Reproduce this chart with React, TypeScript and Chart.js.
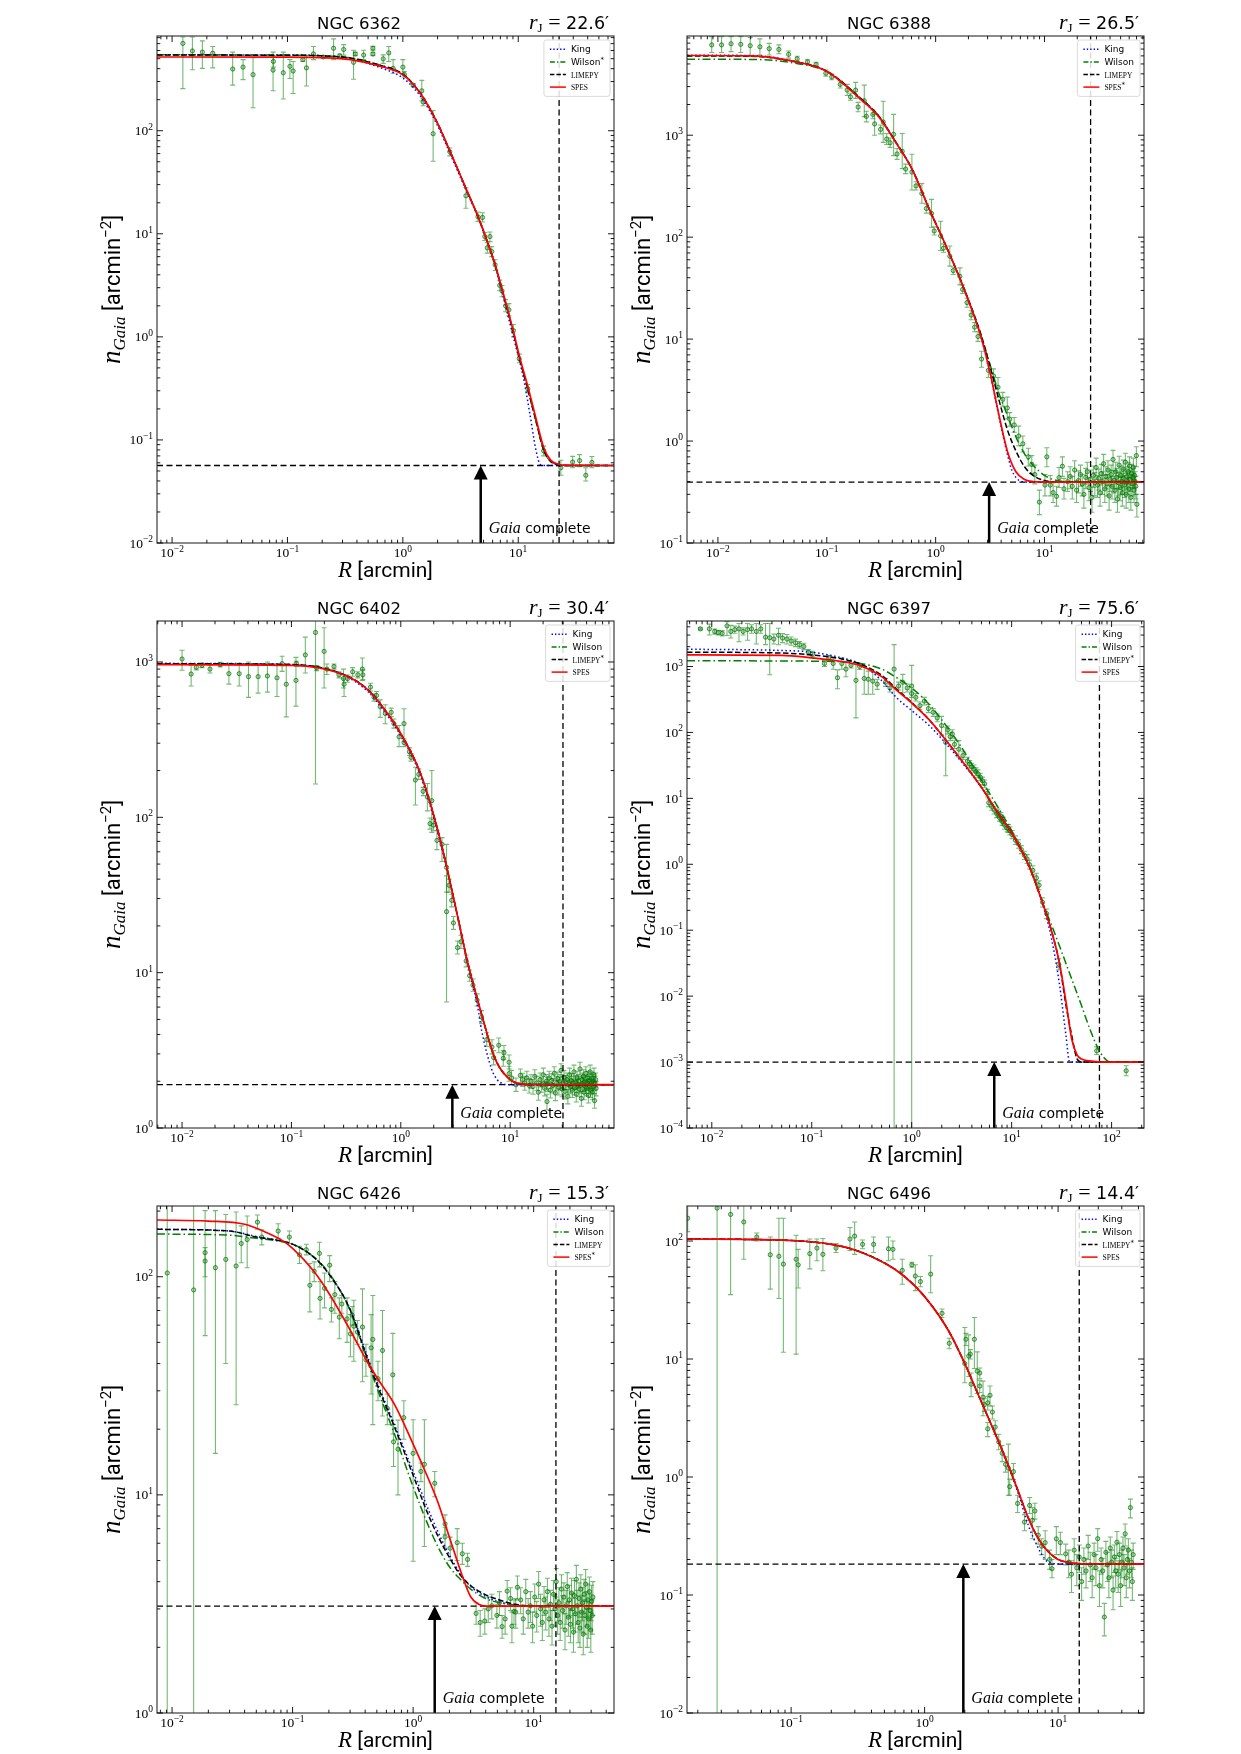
import { useEffect, useRef } from "react";
import { Chart, registerables } from "chart.js";

Chart.register(...registerables);

if (typeof document !== "undefined") {
  document.body.style.margin = "0";
  document.body.style.overflow = "hidden";
  document.body.style.background = "#ffffff";
}

type Obs = [number, number, number, number]; // R, n, lower end, upper end of error bar
type Outer = [number, number, number]; // R, n, symmetric error
type Curve = [number, number][]; // model profile samples (R, n)
type Model = "King" | "Wilson" | "LIMEPY" | "SPES";

// ---------------- NGC 6362 ----------------
const obs6362: Obs[] = [
  [0.0124, 703, 256, 811], [0.015, 594, 390, 811], [0.0183, 579, 403, 745], [0.0225, 565, 407, 657],
  [0.0335, 397, 277, 579], [0.0412, 414, 313, 490], [0.0503, 350, 167, 511], [0.075, 387, 244, 579],
  [0.0755, 470, 414, 532], [0.092, 365, 203, 579], [0.105, 421, 321, 490], [0.112, 380, 230, 470],
  [0.136, 490, 470, 511], [0.146, 407, 272, 532], [0.168, 556, 490, 657], [0.204, 519, 505, 533],
  [0.251, 631, 490, 778], [0.284, 532, 511, 556], [0.307, 614, 542, 685], [0.374, 461, 316, 604],
  [0.387, 556, 535, 578], [0.457, 542, 490, 604], [0.55, 631, 605, 658], [0.55, 556, 535, 578],
  [0.676, 498, 450, 545], [0.755, 569, 470, 657], [0.824, 403, 361, 490], [1.0, 414, 350, 490],
  [1.03, 352, 330, 375], [1.23, 277, 268, 287], [1.46, 244, 194, 308], [1.5, 190, 175, 205],
  [1.83, 93.5, 50.6, 157], [2.55, 62.5, 57, 68], [3.52, 23.4, 17.7, 28], [4.48, 14.6, 13.2, 16.3],
  [4.9, 14.4, 13, 16], [5.13, 9.4, 8.6, 10.3], [5.39, 7.3, 6.5, 8.2], [5.69, 9.4, 8.4, 10.4],
  [5.89, 6.73, 6, 7.5], [6.31, 5.0, 4.4, 5.6], [6.9, 3.16, 2.8, 3.55], [7.24, 2.79, 2.45, 3.15],
  [7.76, 2.0, 1.75, 2.3], [8.3, 1.83, 1.6, 2.1], [9.08, 1.15, 1.0, 1.32], [10.2, 0.614, 0.56, 0.68],
  [12.1, 0.313, 0.285, 0.345], [16.6, 0.0783, 0.07, 0.087], [23.4, 0.0537, 0.0454, 0.0635],
  [29.6, 0.061, 0.0537, 0.0693], [34, 0.063, 0.055, 0.072], [38.5, 0.0454, 0.04, 0.0537],
  [43.5, 0.0605, 0.0537, 0.069],
];
const king6362: Curve = [
  [0.0074, 545], [0.1, 542], [0.2, 533], [0.35, 500], [0.6, 420], [1, 325], [1.25, 258], [1.5, 198],
  [2, 112], [2.55, 61], [3.5, 27], [4.5, 14.3], [5.5, 7.8], [6.3, 4.9], [7.8, 1.95], [9.1, 0.98],
  [10.2, 0.6], [11.2, 0.38], [12.6, 0.18], [14.3, 0.078], [15.5, 0.0578], [16.5, 0.0566], [67.6, 0.0565],
];
const wilson6362: Curve = [
  [0.0074, 545], [0.1, 542], [0.2, 534], [0.35, 510], [0.6, 441], [1, 355], [1.25, 277], [1.5, 211],
  [2, 118], [2.55, 64], [3.5, 28], [4.5, 14.5], [5.5, 7.9], [6.3, 5.0], [7.8, 2.1], [9.1, 1.08],
  [10.2, 0.63], [12.1, 0.31], [14, 0.165], [16.6, 0.08], [19, 0.062], [22, 0.0578], [26, 0.0566], [67.6, 0.0565],
];
const limepy6362: Curve = [
  [0.0074, 542], [0.1, 540], [0.2, 533], [0.35, 508], [0.6, 440], [1, 355], [1.25, 277], [1.5, 211],
  [2, 118], [2.55, 64], [3.5, 28], [4.5, 14.5], [5.5, 7.9], [6.3, 5.0], [7.8, 2.1], [9.1, 1.08],
  [10.2, 0.63], [12.1, 0.31], [14, 0.165], [16.6, 0.08], [19, 0.062], [22, 0.0578], [26, 0.0566], [67.6, 0.0565],
];
const spes6362: Curve = [
  [0.0074, 519], [0.1, 518], [0.2, 512], [0.35, 490], [0.6, 430], [1, 350], [1.25, 275], [1.5, 210],
  [2, 118], [2.55, 64], [3.5, 28], [4.5, 14.5], [5.5, 7.9], [6.3, 5.0], [7.8, 2.15], [9.1, 1.12],
  [10.2, 0.66], [12.1, 0.33], [14, 0.175], [16.6, 0.085], [19, 0.064], [22, 0.0585], [26, 0.0567], [67.6, 0.0565],
];

// ---------------- NGC 6388 ----------------
const obs6388: Obs[] = [
  [0.00877, 7690, 6480, 9270], [0.0108, 7690, 6480, 9270], [0.0132, 7890, 6600, 9270], [0.0162, 7800, 6480, 9270],
  [0.0198, 7550, 6000, 9100], [0.0243, 7360, 6130, 8800], [0.0296, 7060, 6130, 7950], [0.0363, 6940, 6300, 7700],
  [0.0446, 6210, 5700, 6700], [0.0535, 5610, 5300, 5950], [0.0665, 5250, 5000, 5500], [0.0798, 4940, 4700, 5200],
  [0.098, 4060, 3800, 4350], [0.111, 3730, 3500, 3980], [0.133, 3150, 2900, 3400], [0.154, 2770, 2450, 3150],
  [0.165, 2380, 2200, 2580], [0.184, 2770, 2300, 3300], [0.194, 1890, 1700, 2100], [0.221, 2180, 1520, 3100],
  [0.231, 1530, 1350, 1720], [0.265, 1600, 1450, 1770], [0.275, 1290, 1000, 1600], [0.312, 1140, 1030, 1260],
  [0.33, 1350, 850, 2150], [0.355, 918, 810, 1040], [0.382, 844, 760, 940], [0.411, 1020, 630, 1600],
  [0.442, 654, 580, 740], [0.493, 694, 470, 1040], [0.53, 466, 420, 520], [0.605, 435, 290, 650],
  [0.66, 318, 290, 350], [0.747, 268, 215, 335], [0.822, 191, 172, 212], [0.916, 171, 125, 235],
  [0.97, 115, 105, 126], [1.11, 103, 74, 143], [1.18, 78, 71, 86], [1.35, 65, 52, 82],
  [1.45, 47, 43, 51], [1.67, 41.3, 34, 50], [1.77, 30.7, 28, 34], [1.94, 22.8, 20.5, 25.3],
  [2.12, 17.2, 15.5, 19], [2.28, 13.1, 11.8, 14.5], [2.45, 10.6, 9.5, 11.8], [2.64, 6.37, 5.3, 7.6],
  [3.05, 4.94, 4.2, 5.8], [3.4, 4.35, 3.7, 5.1], [3.74, 3.37, 2.7, 4.2], [4.14, 2.57, 2.2, 3.0],
  [4.55, 2.11, 1.65, 2.7], [4.79, 1.64, 1.4, 1.9], [5.27, 1.44, 1.22, 1.7], [5.79, 1.12, 0.9, 1.4],
  [6.32, 0.94, 0.78, 1.12], [7.1, 0.7, 0.57, 0.85], [7.64, 0.59, 0.48, 0.72], [8.15, 0.47, 0.38, 0.58],
  [8.97, 0.252, 0.19, 0.33], [10.1, 0.37, 0.29, 0.47], [10.5, 0.7, 0.56, 0.86], [11.3, 0.37, 0.29, 0.46],
  [12, 0.312, 0.25, 0.39], [12.9, 0.287, 0.23, 0.36], [13.6, 0.438, 0.35, 0.55], [14.6, 0.566, 0.45, 0.7],
  [15.1, 0.34, 0.27, 0.43], [16.3, 0.4, 0.32, 0.5],
];
const outer6388: Outer[] = [
  [17.2, 0.45, 0.11], [18.0, 0.36, 0.09], [18.9, 0.52, 0.12], [19.7, 0.33, 0.08], [20.5, 0.41, 0.1],
  [21.4, 0.47, 0.11], [22.2, 0.38, 0.09], [23.0, 0.3, 0.08], [23.9, 0.44, 0.1], [24.7, 0.5, 0.12],
  [25.6, 0.35, 0.09], [26.4, 0.42, 0.1], [27.3, 0.28, 0.08], [28.1, 0.46, 0.11], [29.0, 0.39, 0.1],
  [29.8, 0.55, 0.13], [30.7, 0.37, 0.09], [31.5, 0.43, 0.1], [32.4, 0.31, 0.08], [33.2, 0.48, 0.11],
  [34.1, 0.4, 0.1], [34.9, 0.6, 0.14], [35.8, 0.34, 0.09], [36.6, 0.45, 0.11], [37.5, 0.38, 0.09],
  [38.3, 0.52, 0.12], [39.2, 0.29, 0.08], [40.0, 0.42, 0.1], [40.9, 0.47, 0.11], [41.7, 0.36, 0.09],
  [42.6, 0.66, 0.15], [43.4, 0.41, 0.1], [44.3, 0.33, 0.08], [45.1, 0.5, 0.12], [46.0, 0.44, 0.1],
  [46.8, 0.27, 0.07], [47.7, 0.39, 0.1], [48.5, 0.58, 0.13], [49.4, 0.35, 0.09], [50.2, 0.46, 0.11],
  [51.1, 0.4, 0.1], [51.9, 0.31, 0.08], [52.8, 0.53, 0.12], [53.6, 0.43, 0.1], [54.5, 0.37, 0.09],
  [55.3, 0.62, 0.14], [56.2, 0.3, 0.08], [57.0, 0.45, 0.11], [57.9, 0.4, 0.1], [58.7, 0.5, 0.12],
  [59.6, 0.34, 0.09], [60.4, 0.57, 0.13], [61.3, 0.42, 0.1], [62.1, 0.28, 0.07], [63.0, 0.48, 0.11],
  [63.8, 0.38, 0.09], [64.7, 0.44, 0.1], [65.5, 0.55, 0.13], [66.4, 0.33, 0.08], [67.2, 0.46, 0.11],
  [68.1, 0.4, 0.1], [69.0, 0.36, 0.09], [69.8, 0.72, 0.16], [70.5, 0.24, 0.06],
];
const king6388: Curve = [
  [0.0052, 6100], [0.02, 6050], [0.05, 5320], [0.1, 4240], [0.2, 2300], [0.3, 1520], [0.43, 850],
  [0.61, 460], [0.88, 185], [1.27, 78], [1.83, 30.7], [2.63, 10.2], [3.16, 4.7], [3.79, 1.8],
  [4.55, 0.75], [5.0, 0.52], [5.46, 0.44], [6.0, 0.405], [7, 0.397], [82, 0.396],
];
const wilson6388: Curve = [
  [0.0052, 5560], [0.02, 5540], [0.05, 5100], [0.1, 4200], [0.2, 2350], [0.3, 1540], [0.43, 860],
  [0.61, 460], [0.88, 185], [1.27, 78], [1.83, 31], [2.63, 10.5], [3.16, 5.6], [3.79, 3.0],
  [4.55, 1.8], [5.46, 1.1], [6.55, 0.75], [7.86, 0.58], [10, 0.46], [13, 0.41], [18, 0.397], [82, 0.396],
];
const limepy6388: Curve = [
  [0.0052, 6000], [0.02, 5950], [0.05, 5280], [0.1, 4250], [0.2, 2350], [0.3, 1540], [0.43, 860],
  [0.61, 460], [0.88, 185], [1.27, 78], [1.83, 31], [2.63, 10.8], [3.16, 5.4], [3.79, 2.6],
  [4.55, 1.3], [5.46, 0.8], [6.55, 0.56], [7.86, 0.46], [10, 0.41], [14, 0.397], [82, 0.396],
];
const spes6388: Curve = [
  [0.0052, 6050], [0.02, 6000], [0.05, 5300], [0.1, 4240], [0.2, 2300], [0.3, 1520], [0.43, 850],
  [0.61, 460], [0.88, 185], [1.27, 78], [1.83, 30.7], [2.63, 10.2], [3.16, 4.7], [3.79, 1.86],
  [4.55, 0.8], [5.46, 0.5], [6.55, 0.42], [7.86, 0.4], [12, 0.396], [82, 0.396],
];

// ---------------- NGC 6402 ----------------
const obs6402: Obs[] = [
  [0.01, 1045, 885, 1190], [0.0121, 837, 700, 951], [0.0135, 925, 890, 960], [0.0152, 951, 920, 985],
  [0.018, 900, 850, 950], [0.0223, 962, 930, 995], [0.0268, 841, 720, 980], [0.0333, 841, 700, 980],
  [0.0405, 805, 592, 1000], [0.0496, 805, 630, 975], [0.0603, 813, 640, 1000], [0.0738, 791, 600, 975],
  [0.0822, 977, 870, 1090], [0.0897, 719, 443, 975], [0.11, 761, 520, 1070], [0.111, 977, 940, 1010],
  [0.134, 1110, 850, 1445], [0.166, 1550, 164, 1860], [0.17, 915, 880, 950], [0.199, 1170, 680, 1660],
  [0.211, 900, 830, 970], [0.245, 935, 900, 970], [0.272, 827, 790, 865], [0.299, 782, 680, 900],
  [0.303, 719, 600, 780], [0.326, 782, 740, 825], [0.363, 865, 810, 920], [0.405, 827, 790, 865],
  [0.445, 900, 760, 1060], [0.45, 827, 770, 890], [0.528, 689, 650, 730], [0.569, 592, 560, 625],
  [0.6, 609, 575, 645], [0.648, 515, 440, 570], [0.721, 466, 400, 530], [0.817, 474, 445, 505],
  [0.865, 401, 375, 430], [0.964, 330, 285, 390], [1.07, 401, 310, 500], [1.07, 303, 285, 320],
  [1.2, 264, 250, 280], [1.24, 243, 230, 257], [1.36, 174, 120, 210], [1.46, 189, 175, 205],
  [1.6, 147, 138, 156], [1.75, 135, 110, 165], [1.92, 128, 80, 200], [1.85, 91, 84, 99],
  [1.99, 89, 82, 97], [2.14, 71, 62, 82], [2.38, 67, 52, 74], [2.62, 47.6, 33, 67],
  [2.62, 24.7, 6.47, 42], [2.76, 36.5, 33, 40], [2.92, 29.2, 26.5, 32], [3.03, 20.9, 19, 23],
  [3.3, 14.5, 13.2, 16], [3.55, 15.8, 14.3, 17.4], [3.96, 11.9, 10.9, 13], [4.26, 9.57, 8.8, 10.4],
  [4.57, 8.32, 7.6, 9.1], [4.99, 6.66, 6.1, 7.3], [5.48, 5.18, 4.7, 5.7], [6.11, 3.71, 3.35, 4.1],
  [6.81, 3.32, 3.0, 3.7], [7.06, 2.84, 2.55, 3.15], [7.87, 3.41, 3.05, 3.8], [8.65, 2.81, 2.5, 3.15],
  [8.78, 3.05, 2.75, 3.4], [9.78, 2.65, 2.4, 2.95], [9.78, 2.24, 2.0, 2.5], [10.3, 2.1, 1.9, 2.35],
  [11.3, 1.9, 1.72, 2.1], [12.4, 2.18, 1.96, 2.4],
];
const outer6402: Outer[] = [
  [13.0, 2.05, 0.2], [13.6, 1.95, 0.2], [14.2, 2.1, 0.22], [14.9, 1.88, 0.2], [15.5, 2.0, 0.2],
  [16.2, 1.85, 0.2], [16.8, 2.15, 0.22], [17.5, 1.95, 0.2], [18.1, 1.7, 0.19], [18.8, 2.05, 0.21],
  [19.4, 1.9, 0.2], [20.1, 2.2, 0.23], [20.7, 1.8, 0.19], [21.4, 2.0, 0.21], [21.7, 1.48, 0.17],
  [22.0, 1.92, 0.2], [22.7, 2.1, 0.22], [23.3, 1.75, 0.19], [24.0, 2.02, 0.21], [24.6, 1.88, 0.2],
  [25.3, 2.25, 0.23], [25.9, 1.68, 0.18], [26.6, 1.95, 0.2], [27.2, 2.08, 0.21], [27.9, 1.82, 0.19],
  [28.5, 2.0, 0.21], [29.2, 2.35, 0.24], [29.8, 1.78, 0.19], [30.5, 1.95, 0.2], [31.1, 2.12, 0.22],
  [31.8, 1.72, 0.18], [32.4, 1.98, 0.2], [33.1, 2.05, 0.21], [33.7, 1.6, 0.17], [34.4, 1.9, 0.2],
  [35.0, 2.2, 0.23], [35.7, 1.85, 0.19], [36.3, 2.02, 0.21], [37.0, 1.75, 0.18], [37.6, 1.95, 0.2],
  [38.3, 2.3, 0.24], [38.9, 1.82, 0.19], [39.6, 1.98, 0.2], [40.2, 1.65, 0.18], [40.9, 2.1, 0.22],
  [41.5, 1.9, 0.2], [42.2, 2.0, 0.21], [42.8, 1.78, 0.19], [43.5, 2.4, 0.25], [44.1, 1.88, 0.2],
  [44.8, 1.55, 0.17], [45.4, 2.05, 0.21], [46.1, 1.92, 0.2], [46.7, 2.15, 0.22], [47.4, 1.7, 0.18],
  [48.0, 1.98, 0.2], [48.7, 1.85, 0.19], [49.3, 2.25, 0.23], [50.0, 1.8, 0.19], [50.6, 1.95, 0.2],
  [51.3, 2.1, 0.22], [51.9, 1.62, 0.17], [52.6, 2.0, 0.21], [53.2, 1.88, 0.2], [53.9, 2.3, 0.24],
  [54.5, 1.75, 0.18], [55.2, 1.95, 0.2], [55.8, 2.08, 0.21], [56.5, 1.7, 0.18], [57.1, 2.0, 0.21],
  [57.8, 1.85, 0.19], [58.4, 2.2, 0.23], [59.1, 1.5, 0.16], [59.7, 1.95, 0.2], [60.4, 2.05, 0.21],
  [61.0, 1.8, 0.19],
];
const king6402: Curve = [
  [0.0059, 980], [0.1, 965], [0.3, 820], [0.5, 645], [0.7, 485], [1, 335], [1.5, 188], [2, 99],
  [2.5, 54], [3, 31], [3.5, 19], [4, 12.1], [5, 6.2], [5.5, 4.2], [6.8, 2.37], [7.6, 2.05],
  [8.5, 1.93], [9.5, 1.9], [89, 1.9],
];
const wilson6402: Curve = [
  [0.0059, 970], [0.1, 958], [0.3, 830], [0.5, 662], [0.7, 501], [1, 345], [1.5, 195], [2, 103],
  [2.5, 56], [3, 31.5], [3.5, 19.2], [4, 12.4], [5, 6.8], [6, 4.3], [7, 3.0], [8, 2.45],
  [10, 2.05], [12, 1.93], [16, 1.905], [89, 1.9],
];
const limepy6402: Curve = [
  [0.0059, 975], [0.1, 962], [0.3, 832], [0.5, 664], [0.7, 502], [1, 346], [1.5, 195], [2, 103],
  [2.5, 56], [3, 31.5], [3.5, 19.2], [4, 12.4], [5, 6.8], [6, 4.3], [7, 3.0], [8, 2.45],
  [10, 2.05], [12, 1.93], [16, 1.905], [89, 1.9],
];
const spes6402: Curve = [
  [0.0059, 962], [0.1, 950], [0.3, 827], [0.5, 662], [0.7, 501], [1, 345], [1.5, 195], [2, 103],
  [2.5, 56], [3, 31.5], [3.5, 19.2], [4, 12.4], [5, 6.8], [6, 4.3], [7, 3.0], [8, 2.45],
  [10, 2.05], [12, 1.93], [16, 1.905], [89, 1.9],
];

// ---------------- NGC 6397 ----------------
const obs6397: Obs[] = [
  [0.00769, 3720, 3600, 3850], [0.00946, 3720, 3000, 4400], [0.0107, 3400, 3100, 3700], [0.0116, 3270, 3000, 3550],
  [0.0127, 3180, 2900, 3500], [0.0142, 4140, 2950, 4800], [0.0155, 3400, 2700, 4200], [0.017, 3630, 3200, 4100],
  [0.0187, 3720, 2380, 4500], [0.0206, 3400, 3000, 3850], [0.0228, 3630, 2500, 4500], [0.025, 3720, 3200, 4300],
  [0.0279, 3400, 2200, 4500], [0.0309, 3720, 3200, 4300], [0.0345, 2790, 2150, 4500], [0.038, 2730, 750, 4500],
  [0.0418, 2610, 2200, 3100], [0.0465, 2980, 2140, 3800], [0.051, 2700, 2300, 3150], [0.0565, 2610, 2200, 3050],
  [0.0622, 2440, 2100, 2800], [0.0688, 2290, 2000, 2600], [0.0757, 2140, 1900, 2400], [0.0834, 2010, 1800, 2250],
  [0.0925, 1650, 1500, 1800], [0.1015, 1540, 1400, 1700], [0.134, 1110, 1000, 1230], [0.148, 1360, 1250, 1480],
  [0.164, 1110, 910, 1350], [0.181, 675, 460, 890], [0.2, 1110, 910, 1350], [0.22, 914, 700, 1150],
  [0.247, 1040, 950, 1130], [0.277, 615, 166, 1100], [0.302, 1000, 900, 1100], [0.335, 658, 380, 1000],
  [0.368, 641, 380, 850], [0.408, 600, 380, 850], [0.452, 540, 450, 640], [0.547, 577, 500, 660],
  [0.606, 473, 410, 540], [0.667, 914, 0.000001, 2150], [0.74, 506, 440, 580], [0.814, 577, 400, 760],
  [0.902, 473, 410, 540], [1.0, 506, 0.000001, 1040], [1.0, 389, 340, 440], [1.1, 341, 300, 390],
  [1.21, 255, 225, 290], [1.34, 299, 260, 340], [1.47, 230, 200, 265], [1.64, 202, 175, 230],
  [1.8, 166, 145, 190], [1.99, 127, 91, 175], [2.19, 70.5, 22, 120], [2.3, 110, 95, 125],
  [2.43, 86, 75, 98], [2.55, 95, 82, 110], [2.68, 66, 57, 76], [2.96, 55.7, 42, 75],
  [3.26, 44.5, 39, 51], [3.61, 36.6, 32, 42], [3.8, 33, 29, 37.5], [3.98, 30, 26, 34],
  [4.2, 28, 24.5, 32], [4.4, 25.3, 22, 29], [4.6, 23.5, 20.5, 27], [4.86, 21, 18.5, 24],
  [5.1, 18.5, 16, 21], [5.37, 16.6, 14.5, 19], [5.74, 12, 10.5, 13.7], [5.9, 8.6, 7.5, 9.8],
  [6.3, 7.56, 6.6, 8.6], [6.7, 6.63, 5.8, 7.6], [7.1, 5.81, 5.1, 6.6], [7.3, 6.0, 5.2, 6.9],
  [7.57, 5.1, 4.5, 5.8], [7.8, 5.3, 4.6, 6.1], [8.0, 4.47, 3.9, 5.1], [8.2, 4.5, 3.9, 5.2],
  [8.5, 3.92, 3.4, 4.5], [9.0, 3.53, 3.1, 4.0], [9.3, 3.5, 3.05, 4.0], [9.6, 3.22, 2.8, 3.7],
  [10.1, 2.82, 2.45, 3.25], [10.9, 2.32, 2.0, 2.7], [11.7, 2.03, 1.75, 2.35], [12.5, 1.67, 1.45, 1.92],
  [13.4, 1.37, 1.18, 1.58], [14.3, 1.2, 1.03, 1.4], [15.1, 0.987, 0.85, 1.15], [16.3, 0.81, 0.69, 0.95],
  [17.7, 0.623, 0.53, 0.73], [18.8, 0.48, 0.41, 0.56], [20.4, 0.265, 0.225, 0.31], [22.4, 0.179, 0.15, 0.21],
  [29.6, 0.0304, 0.025, 0.037], [71, 0.00148, 0.0013, 0.0017], [140, 0.000738, 0.00062, 0.00088],
];
const king6397: Curve = [
  [0.00565, 1830], [0.05, 1750], [0.1, 1650], [0.2, 1350], [0.3, 1110], [0.5, 615], [0.7, 341],
  [1, 215], [1.5, 127], [2, 80], [3, 39], [5, 14.6], [7, 6.6], [10, 3.0], [15, 0.92], [20, 0.28],
  [25, 0.076], [30, 0.0157], [35, 0.0025], [38, 0.001], [211, 0.001],
];
const wilson6397: Curve = [
  [0.00565, 1220], [0.14, 1200], [0.31, 1110], [0.5, 914], [0.68, 703], [1, 473], [1.51, 263],
  [2, 155], [3.09, 62], [4.97, 19], [7.4, 7.1], [10.2, 3.05], [15, 0.92], [20, 0.283], [25, 0.121],
  [30, 0.0586], [40, 0.018], [50, 0.0072], [60, 0.0033], [75, 0.0015], [90, 0.00105], [100, 0.001], [211, 0.001],
];
const limepy6397: Curve = [
  [0.00565, 1650], [0.05, 1600], [0.1, 1500], [0.2, 1300], [0.3, 1100], [0.5, 740], [0.7, 460],
  [1, 285], [1.5, 155], [2, 91.7], [3, 41.7], [5, 14.6], [7, 6.63], [10, 3.01], [15, 0.924],
  [20, 0.283], [25, 0.099], [30, 0.032], [35, 0.0072], [40, 0.0025], [45, 0.00113], [50, 0.001], [211, 0.001],
];
const spes6397: Curve = [
  [0.00565, 1500], [0.05, 1480], [0.1, 1355], [0.2, 1190], [0.3, 1040], [0.5, 703], [0.7, 443],
  [1, 280], [1.5, 155], [2, 91.7], [3, 41.7], [5, 14.6], [7, 6.63], [10, 3.01], [15, 0.924],
  [20, 0.283], [25, 0.099], [30, 0.0325], [35, 0.00817], [40, 0.0022], [45, 0.0013], [50, 0.00111],
  [60, 0.00104], [80, 0.001], [211, 0.001],
];

// ---------------- NGC 6426 ----------------
const obs6426: Obs[] = [
  [0.00912, 104, 0.000001, 400], [0.0151, 87, 0.000001, 400], [0.0188, 129, 53.7, 201], [0.0188, 118, 100, 136],
  [0.0229, 110, 15.5, 201], [0.0279, 120, 40, 193], [0.034, 112, 25.9, 198], [0.0375, 142, 116, 171],
  [0.042, 148, 110, 190], [0.0511, 178, 165, 192], [0.0555, 152, 140, 164], [0.0759, 162, 150, 175],
  [0.094, 152, 142, 162], [0.114, 126, 115, 138], [0.13, 133, 126, 141], [0.139, 91.4, 69, 115],
  [0.151, 106, 95, 117], [0.167, 128, 111, 144], [0.169, 79.6, 64, 95], [0.184, 88.5, 72, 104],
  [0.203, 113, 95, 125], [0.21, 70.8, 62, 80], [0.224, 82.8, 68, 95], [0.244, 65.3, 52, 80],
  [0.256, 75, 68, 82], [0.283, 64.1, 50, 80], [0.302, 54.7, 43, 67], [0.312, 66.7, 60, 73],
  [0.322, 59.3, 41, 78], [0.345, 55.8, 49, 63], [0.38, 58.8, 33, 88], [0.406, 41.6, 35, 49],
  [0.448, 47.2, 29, 67], [0.463, 51.6, 21, 82], [0.511, 34.1, 27, 41], [0.557, 45.9, 23, 70],
  [0.611, 24.9, 21, 29], [0.678, 35.5, 19, 55], [0.688, 17.5, 13.5, 21], [0.749, 16.2, 10, 22],
  [0.837, 22.6, 18, 27], [1.0, 15.5, 4.96, 22.1], [1.16, 12.8, 11.5, 14], [1.24, 13.8, 5.8, 22.1],
  [1.51, 11.3, 9.8, 12.8], [1.84, 6.41, 5.7, 7.1], [1.84, 7.36, 6.6, 8.1], [2.03, 5.7, 5.0, 6.4],
  [2.32, 6.04, 5.0, 7.0], [2.56, 5.37, 4.8, 6.0], [2.83, 5.06, 4.7, 5.4], [3.33, 2.86, 2.55, 3.2],
  [3.6, 2.6, 2.25, 2.95], [3.93, 2.64, 2.3, 3.0], [4.2, 3.0, 2.6, 3.4], [4.49, 3.1, 2.7, 3.5],
  [4.95, 2.8, 2.45, 3.15], [5.2, 3.2, 2.8, 3.6], [5.47, 2.49, 2.2, 2.8], [5.8, 2.7, 2.3, 3.1],
  [6.03, 3.62, 3.2, 4.05], [6.43, 3.35, 2.95, 3.75], [6.6, 2.5, 2.1, 2.9], [6.87, 2.92, 2.55, 3.3],
  [7.1, 2.9, 2.45, 3.35], [7.33, 3.77, 3.3, 4.25],
];
const outer6426: Outer[] = [
  [7.8, 3.3, 0.45], [8.2, 2.7, 0.4], [8.6, 3.6, 0.5], [9.0, 2.9, 0.45], [9.4, 3.1, 0.5], [9.8, 2.5, 0.4],
  [10.2, 3.4, 0.5], [10.6, 2.8, 0.45], [11.0, 3.9, 0.55], [11.4, 3.0, 0.5], [11.8, 2.6, 0.45], [12.2, 3.3, 0.5],
  [12.6, 2.9, 0.5], [13.0, 3.6, 0.55], [13.4, 2.7, 0.45], [13.8, 3.15, 0.5], [14.2, 2.5, 0.45], [14.6, 3.5, 0.55],
  [15.0, 3.0, 0.5], [15.4, 4.0, 0.6], [15.8, 2.8, 0.5], [16.2, 3.2, 0.55], [16.6, 2.6, 0.45], [17.0, 3.7, 0.6],
  [17.4, 2.95, 0.5], [17.8, 3.4, 0.55], [18.2, 2.4, 0.45], [18.6, 3.1, 0.55], [19.0, 3.8, 0.6], [19.4, 2.75, 0.5],
  [19.8, 3.3, 0.55], [20.2, 2.55, 0.45], [20.6, 3.55, 0.6], [21.0, 3.0, 0.55], [21.4, 2.35, 0.45], [21.8, 3.45, 0.6],
  [22.2, 2.85, 0.5], [22.6, 4.1, 0.65], [23.0, 3.1, 0.55], [23.4, 2.6, 0.5], [23.8, 3.35, 0.6], [24.2, 2.45, 0.45],
  [24.6, 3.7, 0.6], [25.0, 2.9, 0.55], [25.4, 3.2, 0.55], [25.8, 2.3, 0.45], [26.2, 3.5, 0.6], [26.6, 2.8, 0.5],
  [27.0, 3.9, 0.65], [27.4, 3.05, 0.55], [27.8, 2.5, 0.5], [28.2, 3.3, 0.6], [28.6, 2.7, 0.5], [29.0, 3.6, 0.6],
  [29.4, 2.95, 0.55], [29.8, 2.4, 0.5], [30.2, 3.25, 0.6], [30.6, 2.8, 0.5], [31.0, 3.4, 0.6],
];
const king6426: Curve = [
  [0.0075, 165], [0.03, 162], [0.05, 153], [0.08, 146], [0.1, 141], [0.15, 123], [0.2, 103], [0.3, 71],
  [0.4, 46], [0.5, 33], [0.7, 21], [1, 12.8], [1.3, 8.9], [1.6, 6.8], [2, 5.3], [2.5, 4.3], [3, 3.8],
  [4, 3.42], [5, 3.25], [7, 3.12], [10, 3.09], [46.4, 3.09],
];
const wilson6426: Curve = [
  [0.0075, 157], [0.03, 155], [0.05, 150], [0.08, 145], [0.1, 141], [0.15, 123], [0.2, 104], [0.3, 70],
  [0.4, 44], [0.5, 31], [0.7, 19], [1, 10.9], [1.3, 7.5], [1.6, 5.81], [2, 4.68], [2.5, 4.07], [3, 3.7],
  [4, 3.35], [5, 3.22], [7, 3.12], [10, 3.09], [46.4, 3.09],
];
const limepy6426: Curve = [
  [0.0075, 165], [0.03, 162], [0.05, 152], [0.08, 146], [0.1, 141], [0.15, 123], [0.2, 103], [0.3, 70.7],
  [0.4, 45], [0.5, 32.2], [0.7, 20.5], [1, 12.3], [1.3, 8.4], [1.6, 6.5], [2, 5.16], [2.5, 4.24], [3, 3.84],
  [4, 3.48], [5, 3.32], [7, 3.15], [10, 3.09], [46.4, 3.09],
];
const spes6426: Curve = [
  [0.0075, 182], [0.02, 180], [0.04, 174], [0.06, 160], [0.083, 146], [0.1, 135], [0.15, 106], [0.2, 84],
  [0.3, 57], [0.4, 42.4], [0.5, 34.5], [0.7, 26], [1, 17.1], [1.3, 12.3], [1.6, 9.3], [2, 6.4], [2.5, 4.41],
  [3, 3.41], [3.5, 3.15], [4, 3.09], [46.4, 3.09],
];

// ---------------- NGC 6496 ----------------
const obs6496: Obs[] = [
  [0.0168, 156, 120, 200], [0.0279, 190, 0.000001, 400], [0.0352, 168, 35.1, 210], [0.0442, 145, 70, 210],
  [0.0553, 108, 100, 117], [0.0698, 76.4, 39.1, 108], [0.081, 74.2, 32.6, 156], [0.0875, 63.7, 11.4, 156],
  [0.109, 70, 11, 112], [0.113, 62.8, 40, 85], [0.138, 78.1, 58, 104], [0.156, 87.1, 68, 104],
  [0.173, 77, 56, 105], [0.217, 87.1, 80, 95], [0.276, 104, 83, 130], [0.299, 110, 77, 145],
  [0.343, 93.7, 86, 102], [0.415, 93.7, 80, 108], [0.536, 85.9, 68, 108], [0.579, 85, 70, 100],
  [0.68, 56.3, 43, 70], [0.803, 62.8, 60, 66], [0.852, 50.5, 38, 63], [0.93, 45.3, 41, 50],
  [1.11, 52.4, 36.4, 75], [1.35, 24.4, 22.5, 26.5], [1.53, 13.6, 12.2, 15], [2.0, 9.14, 6.3, 18.5],
  [2.04, 14.7, 13, 16.5], [2.14, 10.6, 7.1, 16], [2.2, 11, 10, 12], [2.23, 6.12, 4.8, 7.6],
  [2.36, 14.7, 8.3, 22.5], [2.48, 7.89, 5.1, 11.5], [2.59, 7.61, 6.8, 8.4], [2.59, 5.9, 5.2, 6.6],
  [2.74, 4.75, 3.3, 6.5], [2.8, 4.1, 3.6, 4.6], [2.97, 4.25, 3.7, 4.8], [2.97, 2.56, 2.2, 2.9],
  [3.09, 4.92, 4.0, 5.9], [3.22, 3.55, 3.1, 4.0], [3.38, 2.65, 2.3, 3.0], [3.59, 1.98, 1.7, 2.3],
  [3.81, 1.59, 1.35, 1.85], [4.04, 1.28, 1.1, 1.48], [4.24, 1.19, 0.7, 1.9], [4.34, 0.828, 0.7, 0.96],
  [4.63, 1.11, 0.95, 1.3], [4.97, 0.597, 0.5, 0.7], [5.6, 0.415, 0.35, 0.48], [6.12, 0.575, 0.49, 0.67],
  [6.42, 0.43, 0.3, 0.55], [6.7, 0.515, 0.44, 0.6], [7.1, 0.321, 0.27, 0.38], [7.53, 0.259, 0.22, 0.3],
  [8.0, 0.278, 0.2, 0.35], [8.64, 0.2, 0.165, 0.24], [9.0, 0.167, 0.14, 0.2], [9.7, 0.299, 0.22, 0.38],
  [10.4, 0.278, 0.22, 0.34], [11.4, 0.223, 0.18, 0.27],
];
const outer6496: Outer[] = [
  [12.0, 0.19, 0.05], [12.6, 0.15, 0.045], [13.2, 0.24, 0.06], [13.8, 0.17, 0.05], [14.4, 0.21, 0.055],
  [15.0, 0.13, 0.04], [15.6, 0.2, 0.05], [16.2, 0.16, 0.045], [16.8, 0.26, 0.06], [17.4, 0.18, 0.05],
  [18.0, 0.14, 0.045], [18.6, 0.22, 0.055], [19.2, 0.17, 0.05], [19.8, 0.3, 0.065], [20.4, 0.12, 0.04],
  [21.0, 0.2, 0.05], [21.6, 0.16, 0.045], [22.2, 0.065, 0.02], [22.8, 0.23, 0.055], [23.4, 0.18, 0.05],
  [24.0, 0.14, 0.045], [24.6, 0.25, 0.06], [25.2, 0.19, 0.05], [25.8, 0.11, 0.035], [26.4, 0.21, 0.055],
  [27.0, 0.16, 0.045], [27.6, 0.28, 0.065], [28.2, 0.15, 0.045], [28.8, 0.22, 0.055], [29.4, 0.12, 0.04],
  [30.0, 0.19, 0.05], [30.6, 0.25, 0.06], [31.2, 0.17, 0.05], [31.8, 0.33, 0.07], [32.4, 0.14, 0.045],
  [33.0, 0.2, 0.05], [33.6, 0.24, 0.06], [34.2, 0.16, 0.045], [34.8, 0.55, 0.1], [35.4, 0.19, 0.05],
  [36.0, 0.13, 0.04], [36.5, 0.22, 0.055],
];
const king6496: Curve = [
  [0.0166, 104], [0.1, 101], [0.2, 93.7], [0.3, 84], [0.5, 65.1], [0.7, 50.5], [1, 33.8], [1.5, 17.6],
  [2, 9.14], [2.5, 5.1], [3, 3.18], [4, 1.46], [5, 0.74], [6, 0.386], [7, 0.259], [8, 0.2],
  [9, 0.186], [10, 0.183], [44, 0.183],
];
const wilson6496: Curve = [
  [0.0166, 104], [0.1, 101], [0.2, 93.7], [0.3, 84], [0.5, 65.1], [0.7, 50.5], [1, 33.8], [1.5, 17.6],
  [2, 9.14], [2.5, 5.1], [3, 3.18], [4, 1.48], [5, 0.769], [6, 0.446], [7, 0.31], [8, 0.249],
  [10, 0.2], [12, 0.189], [15, 0.184], [44, 0.183],
];
const limepy6496: Curve = [
  [0.0166, 104], [0.1, 101], [0.2, 93.7], [0.3, 84], [0.5, 65.1], [0.7, 50.5], [1, 33.8], [1.5, 17.6],
  [2, 9.14], [2.5, 5.1], [3, 3.18], [4, 1.48], [5, 0.769], [6, 0.446], [7, 0.31], [8, 0.249],
  [10, 0.2], [12, 0.189], [15, 0.184], [44, 0.183],
];
const spes6496: Curve = [
  [0.0166, 104], [0.1, 101], [0.2, 93.7], [0.3, 84], [0.5, 65.1], [0.7, 50.5], [1, 33.8], [1.5, 17.6],
  [2, 9.14], [2.5, 5.1], [3, 3.18], [4, 1.48], [5, 0.769], [6, 0.446], [7, 0.31], [8, 0.249],
  [10, 0.2], [12, 0.189], [15, 0.184], [44, 0.183],
];

interface Panel {
  name: string;
  rJ: number; // Jacobi radius [arcmin]
  bg: number; // background density
  complete: number; // radius beyond which Gaia is complete
  xMin: number; xMax: number; yMin: number; yMax: number;
  obs: Obs[]; outer: Outer[];
  king: Curve; wilson: Curve; limepy: Curve; spes: Curve;
  best: Model;
}

const PANELS: Panel[] = [
  { name: "NGC 6362", rJ: 22.6, bg: 0.0565, complete: 4.73, xMin: 0.0074, xMax: 67.6, yMin: 0.01, yMax: 830,
    obs: obs6362, outer: [], king: king6362, wilson: wilson6362, limepy: limepy6362, spes: spes6362, best: "Wilson" },
  { name: "NGC 6388", rJ: 26.5, bg: 0.396, complete: 3.1, xMin: 0.0052, xMax: 82, yMin: 0.1, yMax: 9400,
    obs: obs6388, outer: outer6388, king: king6388, wilson: wilson6388, limepy: limepy6388, spes: spes6388, best: "SPES" },
  { name: "NGC 6402", rJ: 30.4, bg: 1.9, complete: 2.96, xMin: 0.0059, xMax: 89, yMin: 1, yMax: 1836,
    obs: obs6402, outer: outer6402, king: king6402, wilson: wilson6402, limepy: limepy6402, spes: spes6402, best: "LIMEPY" },
  { name: "NGC 6397", rJ: 75.6, bg: 0.001, complete: 6.7, xMin: 0.00565, xMax: 211, yMin: 0.0001, yMax: 4900,
    obs: obs6397, outer: [], king: king6397, wilson: wilson6397, limepy: limepy6397, spes: spes6397, best: "LIMEPY" },
  { name: "NGC 6426", rJ: 15.3, bg: 3.09, complete: 1.51, xMin: 0.0075, xMax: 46.4, yMin: 1, yMax: 211,
    obs: obs6426, outer: outer6426, king: king6426, wilson: wilson6426, limepy: limepy6426, spes: spes6426, best: "SPES" },
  { name: "NGC 6496", rJ: 14.4, bg: 0.183, complete: 1.95, xMin: 0.0166, xMax: 44, yMin: 0.01, yMax: 198,
    obs: obs6496, outer: outer6496, king: king6496, wilson: wilson6496, limepy: limepy6496, spes: spes6496, best: "LIMEPY" },
];

// ---------------- layout ----------------
const PLOT_W = 457;
const PLOT_H = 507;
const PAD = { left: 100, right: 15, top: 36, bottom: 42 };
const CW = PAD.left + PLOT_W + PAD.right;
const CH = PAD.top + PLOT_H + PAD.bottom;
const COL_LEFT = [157, 687];
const ROW_TOP = [36, 621, 1206];

const SANS = '"DejaVu Sans", sans-serif';
const LABEL = 'Roboto, "DejaVu Sans", sans-serif';
const SERIF = '"Liberation Serif", "DejaVu Serif", serif';

type Run = { t: string; f: string; dy?: number };

function runsWidth(ctx: CanvasRenderingContext2D, runs: Run[]) {
  let w = 0;
  for (const r of runs) {
    ctx.font = r.f;
    w += ctx.measureText(r.t).width;
  }
  return w;
}

function drawRuns(ctx: CanvasRenderingContext2D, runs: Run[], x: number, y: number, align: "left" | "center" | "right") {
  const w = runsWidth(ctx, runs);
  let cx = align === "left" ? x : align === "center" ? x - w / 2 : x - w;
  ctx.textAlign = "left";
  ctx.textBaseline = "alphabetic";
  for (const r of runs) {
    ctx.font = r.f;
    ctx.fillText(r.t, cx, y + (r.dy || 0));
    cx += ctx.measureText(r.t).width;
  }
}

function logTicks(min: number, max: number) {
  const out: { v: number; major: boolean; e: number }[] = [];
  const e0 = Math.floor(Math.log10(min));
  const e1 = Math.ceil(Math.log10(max));
  for (let e = e0; e <= e1; e++) {
    for (let m = 1; m <= 9; m++) {
      const v = m * Math.pow(10, e);
      if (v >= min * 0.99999 && v <= max * 1.00001) out.push({ v, major: m === 1, e });
    }
  }
  return out;
}

function expText(e: number) {
  return e < 0 ? "\u2212" + String(-e) : String(e);
}

const LEGEND: { name: Model; font: string; color: string; dash: number[] }[] = [
  { name: "King", font: `9px ${SANS}`, color: "#0000ff", dash: [1.4, 2] },
  { name: "Wilson", font: `9px ${SANS}`, color: "#008000", dash: [5, 2, 1.4, 2] },
  { name: "LIMEPY", font: `7.5px ${SERIF}`, color: "#000000", dash: [4.5, 2] },
  { name: "SPES", font: `7.5px ${SERIF}`, color: "#ff0000", dash: [] },
];

type ObsPoint = { x: number; y: number; lo: number; hi: number };

function decor(p: Panel, points: ObsPoint[]) {
  return {
    id: "decor",
    beforeDatasetsDraw(chart: any) {
      const { ctx, chartArea: a, scales } = chart;
      const xs = scales.x;
      const ys = scales.y;
      ctx.save();
      ctx.beginPath();
      ctx.rect(a.left, a.top, a.right - a.left, a.bottom - a.top);
      ctx.clip();
      ctx.strokeStyle = "rgba(0,128,0,0.55)";
      ctx.lineWidth = 1.1;
      for (const pt of points) {
        const x = xs.getPixelForValue(pt.x);
        const yLo = ys.getPixelForValue(Math.max(pt.lo, p.yMin * 1e-4));
        const yHi = ys.getPixelForValue(pt.hi);
        ctx.beginPath();
        ctx.moveTo(x, yLo);
        ctx.lineTo(x, yHi);
        ctx.moveTo(x - 2.5, yLo);
        ctx.lineTo(x + 2.5, yLo);
        ctx.moveTo(x - 2.5, yHi);
        ctx.lineTo(x + 2.5, yHi);
        ctx.stroke();
      }
      ctx.restore();
    },
    afterDatasetsDraw(chart: any) {
      const { ctx, chartArea: a, scales } = chart;
      const xs = scales.x;
      const ys = scales.y;
      ctx.save();

      // completeness arrow
      const ax = xs.getPixelForValue(p.complete);
      const ay = ys.getPixelForValue(p.bg);
      ctx.fillStyle = "#000";
      ctx.fillRect(ax - 1.25, ay + 13, 2.5, a.bottom - ay - 13);
      ctx.beginPath();
      ctx.moveTo(ax, ay);
      ctx.lineTo(ax - 7, ay + 14);
      ctx.lineTo(ax + 7, ay + 14);
      ctx.closePath();
      ctx.fill();
      drawRuns(ctx, [
        { t: "Gaia", f: `italic 16px ${SERIF}` },
        { t: " complete", f: `14px ${SANS}` },
      ], ax + 8, a.bottom - 10, "left");

      // legend
      const rowH = 12.6;
      let textW = 0;
      const runsFor = (e: typeof LEGEND[number]): Run[] =>
        e.name === p.best
          ? [{ t: e.name, f: e.font }, { t: "*", f: `7px ${SANS}`, dy: -3 }]
          : [{ t: e.name, f: e.font }];
      for (const e of LEGEND) textW = Math.max(textW, runsWidth(ctx, runsFor(e)));
      const lw = 27 + textW + 6;
      const lh = rowH * 4 + 6;
      const lx = a.right - 4 - lw;
      const ly = a.top + 4;
      ctx.beginPath();
      ctx.roundRect(lx, ly, lw, lh, 2.5);
      ctx.fillStyle = "rgba(255,255,255,0.85)";
      ctx.fill();
      ctx.strokeStyle = "#d0d0d0";
      ctx.lineWidth = 0.8;
      ctx.stroke();
      LEGEND.forEach((e, i) => {
        const cy = ly + 3 + rowH * i + rowH / 2;
        ctx.beginPath();
        ctx.setLineDash(e.dash);
        ctx.strokeStyle = e.color;
        ctx.lineWidth = 1.5;
        ctx.moveTo(lx + 6, cy);
        ctx.lineTo(lx + 22, cy);
        ctx.stroke();
        ctx.setLineDash([]);
        ctx.fillStyle = "#000";
        drawRuns(ctx, runsFor(e), lx + 27, cy + 3, "left");
      });

      // frame
      ctx.strokeStyle = "#2a2a2a";
      ctx.lineWidth = 1.1;
      ctx.strokeRect(a.left, a.top, a.right - a.left, a.bottom - a.top);

      // inward ticks on all four sides
      ctx.strokeStyle = "#000";
      ctx.lineWidth = 0.9;
      ctx.beginPath();
      for (const t of logTicks(p.xMin, p.xMax)) {
        const x = xs.getPixelForValue(t.v);
        const len = t.major ? 6 : 3.3;
        ctx.moveTo(x, a.bottom);
        ctx.lineTo(x, a.bottom - len);
        ctx.moveTo(x, a.top);
        ctx.lineTo(x, a.top + len);
      }
      for (const t of logTicks(p.yMin, p.yMax)) {
        const y = ys.getPixelForValue(t.v);
        const len = t.major ? 6 : 3.3;
        ctx.moveTo(a.left, y);
        ctx.lineTo(a.left + len, y);
        ctx.moveTo(a.right, y);
        ctx.lineTo(a.right - len, y);
      }
      ctx.stroke();
      ctx.restore();
    },
    afterDraw(chart: any) {
      const { ctx, chartArea: a, scales } = chart;
      const xs = scales.x;
      const ys = scales.y;
      ctx.save();
      ctx.fillStyle = "#000";

      // tick labels
      for (const t of logTicks(p.xMin, p.xMax)) {
        if (!t.major) continue;
        const x = xs.getPixelForValue(t.v);
        drawRuns(ctx, [
          { t: "10", f: `13.5px ${SERIF}` },
          { t: expText(t.e), f: `9.5px ${SERIF}`, dy: -5.5 },
        ], x, a.bottom + 14, "center");
      }
      for (const t of logTicks(p.yMin, p.yMax)) {
        if (!t.major) continue;
        const y = ys.getPixelForValue(t.v);
        drawRuns(ctx, [
          { t: "10", f: `13.5px ${SERIF}` },
          { t: expText(t.e), f: `9.5px ${SERIF}`, dy: -5.5 },
        ], a.left - 4, y + 4.5, "right");
      }

      // title and Jacobi radius
      drawRuns(ctx, [{ t: p.name, f: `16.5px ${SANS}` }], a.left + 202, a.top - 7.5, "center");
      drawRuns(ctx, [
        { t: "r", f: `italic 22px ${SERIF}` },
        { t: "J", f: `13px ${SERIF}`, dy: 3 },
        { t: " = ", f: `22px ${SERIF}` },
        { t: p.rJ.toFixed(1) + "\u2032", f: `17.5px ${SANS}` },
      ], a.right - 5, a.top - 7.5, "right");

      // axis labels
      drawRuns(ctx, [
        { t: "R", f: `italic 23px ${SERIF}` },
        { t: " [arcmin]", f: `21px ${LABEL}` },
      ], (a.left + a.right) / 2, a.bottom + 34, "center");

      ctx.translate(a.left - 37, (a.top + a.bottom) / 2);
      ctx.rotate(-Math.PI / 2);
      drawRuns(ctx, [
        { t: "n", f: `italic 27px ${SERIF}` },
        { t: "Gaia", f: `italic 17px ${SERIF}`, dy: 5 },
        { t: " [arcmin", f: `22px ${LABEL}` },
        { t: "\u22122", f: `15px ${LABEL}`, dy: -9 },
        { t: "]", f: `22px ${LABEL}` },
      ], 0, 0, "center");
      ctx.restore();
    },
  };
}

const toXY = (c: Curve) => c.map(([x, y]) => ({ x, y }));

function ProfilePanel({ p, index }: { p: Panel; index: number }) {
  const ref = useRef<HTMLCanvasElement>(null);
  useEffect(() => {
    if (!ref.current) return;
    const points: ObsPoint[] = [
      ...p.obs.map(([x, y, lo, hi]) => ({ x, y, lo, hi })),
      ...p.outer.map(([x, y, s]) => ({ x, y, lo: y - s, hi: y + s })),
    ];
    const curve = (label: string, data: Curve, color: string, dash: number[], width: number, order: number) => ({
      label,
      data: toXY(data),
      borderColor: color,
      borderWidth: width,
      borderDash: dash,
      pointRadius: 0,
      cubicInterpolationMode: "monotone" as const,
      fill: false,
      order,
      clip: 0,
    });
    const chart = new Chart(ref.current, {
      type: "line",
      data: {
        datasets: [
          curve("SPES", p.spes, "#ff0000", [], 1.7, 0),
          curve("LIMEPY", p.limepy, "#000000", [5.5, 2.5], 1.5, 1),
          curve("Wilson", p.wilson, "#008000", [8, 3, 1.5, 3], 1.5, 2),
          curve("King", p.king, "#0000ff", [1.5, 2.6], 1.5, 3),
          {
            label: "background",
            data: [{ x: p.xMin, y: p.bg }, { x: p.xMax, y: p.bg }],
            borderColor: "#000000", borderWidth: 1.3, borderDash: [6, 3.5], pointRadius: 0, order: 4, clip: 0,
          },
          {
            label: "Jacobi radius",
            data: [{ x: p.rJ, y: p.yMin }, { x: p.rJ, y: p.yMax }],
            borderColor: "#000000", borderWidth: 1.3, borderDash: [6, 3.5], pointRadius: 0, order: 5, clip: 0,
          },
          {
            label: "Gaia counts",
            data: points as any,
            showLine: false,
            pointRadius: 2.1,
            pointBorderWidth: 0.9,
            pointBorderColor: "rgba(0,110,0,0.8)",
            pointBackgroundColor: "rgba(0,128,0,0.25)",
            order: 6,
            clip: 0,
          },
        ] as any,
      },
      options: {
        responsive: false,
        animation: false,
        events: [],
        layout: { padding: PAD },
        scales: {
          x: { type: "logarithmic", min: p.xMin, max: p.xMax, display: false },
          y: { type: "logarithmic", min: p.yMin, max: p.yMax, display: false },
        },
        plugins: { legend: { display: false }, tooltip: { enabled: false } },
      },
      plugins: [decor(p, points)],
    });
    return () => chart.destroy();
  }, [p]);

  const col = index % 2;
  const row = Math.floor(index / 2);
  return (
    <canvas
      ref={ref}
      width={CW}
      height={CH}
      style={{ position: "absolute", left: COL_LEFT[col] - PAD.left, top: ROW_TOP[row] - PAD.top, width: CW, height: CH }}
    />
  );
}

export default function App() {
  return (
    <div style={{ position: "relative", width: 1241, height: 1754, overflow: "hidden", background: "#ffffff" }}>
      {PANELS.map((p, i) => (
        <ProfilePanel key={p.name} p={p} index={i} />
      ))}
    </div>
  );
}
